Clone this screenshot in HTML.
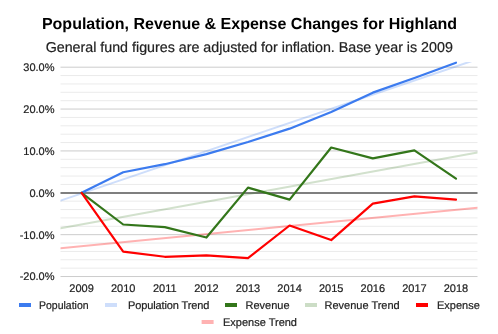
<!DOCTYPE html>
<html><head><meta charset="utf-8"><style>
html,body{margin:0;padding:0;background:#fff;}
svg{display:block;will-change:transform;}
text{font-family:"Liberation Sans",sans-serif;text-rendering:geometricPrecision;}
.t text,text.t{stroke:#222222;stroke-width:0.2px;}
</style></head><body>
<svg width="498" height="334" viewBox="0 0 498 334">
<rect width="498" height="334" fill="#ffffff"/>
<text x="249.5" y="29.2" text-anchor="middle" font-size="16" font-weight="bold" fill="#000000">Population, Revenue &amp; Expense Changes for Highland</text>
<text x="249.25" y="51.8" text-anchor="middle" font-size="14.25" fill="#222222" class="t">General fund figures are adjusted for inflation. Base year is 2009</text>
<g>
<line x1="60.5" x2="477.5" y1="276.54" y2="276.54" stroke="#cccccc" stroke-width="1"/>
<line x1="60.5" x2="477.5" y1="268.17" y2="268.17" stroke="#ebebeb" stroke-width="1"/>
<line x1="60.5" x2="477.5" y1="259.79" y2="259.79" stroke="#ebebeb" stroke-width="1"/>
<line x1="60.5" x2="477.5" y1="251.42" y2="251.42" stroke="#ebebeb" stroke-width="1"/>
<line x1="60.5" x2="477.5" y1="243.04" y2="243.04" stroke="#ebebeb" stroke-width="1"/>
<line x1="60.5" x2="477.5" y1="234.67" y2="234.67" stroke="#cccccc" stroke-width="1"/>
<line x1="60.5" x2="477.5" y1="226.30" y2="226.30" stroke="#ebebeb" stroke-width="1"/>
<line x1="60.5" x2="477.5" y1="217.92" y2="217.92" stroke="#ebebeb" stroke-width="1"/>
<line x1="60.5" x2="477.5" y1="209.55" y2="209.55" stroke="#ebebeb" stroke-width="1"/>
<line x1="60.5" x2="477.5" y1="201.17" y2="201.17" stroke="#ebebeb" stroke-width="1"/>
<line x1="60.5" x2="477.5" y1="184.43" y2="184.43" stroke="#ebebeb" stroke-width="1"/>
<line x1="60.5" x2="477.5" y1="176.05" y2="176.05" stroke="#ebebeb" stroke-width="1"/>
<line x1="60.5" x2="477.5" y1="167.68" y2="167.68" stroke="#ebebeb" stroke-width="1"/>
<line x1="60.5" x2="477.5" y1="159.30" y2="159.30" stroke="#ebebeb" stroke-width="1"/>
<line x1="60.5" x2="477.5" y1="150.93" y2="150.93" stroke="#cccccc" stroke-width="1"/>
<line x1="60.5" x2="477.5" y1="142.56" y2="142.56" stroke="#ebebeb" stroke-width="1"/>
<line x1="60.5" x2="477.5" y1="134.18" y2="134.18" stroke="#ebebeb" stroke-width="1"/>
<line x1="60.5" x2="477.5" y1="125.81" y2="125.81" stroke="#ebebeb" stroke-width="1"/>
<line x1="60.5" x2="477.5" y1="117.43" y2="117.43" stroke="#ebebeb" stroke-width="1"/>
<line x1="60.5" x2="477.5" y1="109.06" y2="109.06" stroke="#cccccc" stroke-width="1"/>
<line x1="60.5" x2="477.5" y1="100.69" y2="100.69" stroke="#ebebeb" stroke-width="1"/>
<line x1="60.5" x2="477.5" y1="92.31" y2="92.31" stroke="#ebebeb" stroke-width="1"/>
<line x1="60.5" x2="477.5" y1="83.94" y2="83.94" stroke="#ebebeb" stroke-width="1"/>
<line x1="60.5" x2="477.5" y1="75.56" y2="75.56" stroke="#ebebeb" stroke-width="1"/>
<line x1="60.5" x2="477.5" y1="67.19" y2="67.19" stroke="#cccccc" stroke-width="1"/>
</g>
<line x1="60.5" x2="477.5" y1="193" y2="193" stroke="#7f7f7f" stroke-width="2"/>
<g font-size="11" fill="#222222" class="t">
<text x="54.5" y="71.09" text-anchor="end">30.0%</text>
<text x="54.5" y="112.96" text-anchor="end">20.0%</text>
<text x="54.5" y="154.83" text-anchor="end">10.0%</text>
<text x="54.5" y="196.70" text-anchor="end">0.0%</text>
<text x="54.5" y="238.57" text-anchor="end">-10.0%</text>
<text x="54.5" y="280.44" text-anchor="end">-20.0%</text>
<text x="81.60" y="291.9" text-anchor="middle">2009</text>
<text x="123.20" y="291.9" text-anchor="middle">2010</text>
<text x="164.80" y="291.9" text-anchor="middle">2011</text>
<text x="206.40" y="291.9" text-anchor="middle">2012</text>
<text x="248.00" y="291.9" text-anchor="middle">2013</text>
<text x="289.60" y="291.9" text-anchor="middle">2014</text>
<text x="331.20" y="291.9" text-anchor="middle">2015</text>
<text x="372.80" y="291.9" text-anchor="middle">2016</text>
<text x="414.40" y="291.9" text-anchor="middle">2017</text>
<text x="456.00" y="291.9" text-anchor="middle">2018</text>
</g>
<defs><clipPath id="ca"><rect x="60.5" y="62" width="417.0" height="215"/></clipPath></defs>
<g clip-path="url(#ca)" fill="none" stroke-linejoin="round" stroke-linecap="round">
<path d="M60.50,200.60 L477.50,59.13" stroke="#3c7bef" stroke-opacity="0.25" stroke-width="2"/>
<path d="M60.50,228.28 L477.50,152.44" stroke="#33761a" stroke-opacity="0.22" stroke-width="2"/>
<path d="M60.50,248.29 L477.50,207.66" stroke="#ff0000" stroke-opacity="0.3" stroke-width="2"/>
</g>
<g fill="none" stroke-linejoin="round" stroke-linecap="round">
<polyline points="81.60,192.80 123.20,172.28 164.80,164.20 206.40,154.11 248.00,141.97 289.60,128.66 331.20,111.99 372.80,92.65 414.40,77.95 456.00,62.71" stroke="#3c7bef" stroke-width="2.2"/>
<polyline points="81.60,192.80 123.20,224.50 164.80,227.09 206.40,237.52 248.00,187.65 289.60,199.58 331.20,147.50 372.80,158.38 414.40,150.30 456.00,178.65" stroke="#33761a" stroke-width="2.2"/>
<polyline points="81.60,192.80 123.20,251.59 164.80,256.78 206.40,255.31 248.00,258.20 289.60,225.50 331.20,240.07 372.80,203.64 414.40,196.32 456.00,199.71" stroke="#ff0000" stroke-width="2.2"/>
</g>
<g font-size="11" fill="#222222" class="t">
<rect x="19" y="303" width="12" height="4" fill="#3c7bef"/>
<text x="39" y="308.7" textLength="49.6" lengthAdjust="spacingAndGlyphs">Population</text>
<rect x="105" y="303" width="12" height="4" fill="#3c7bef" fill-opacity="0.25"/>
<text x="128" y="308.7" textLength="81.3">Population Trend</text>
<rect x="225" y="303" width="12" height="4" fill="#33761a"/>
<text x="245.5" y="308.7">Revenue</text>
<rect x="305" y="303" width="12" height="4" fill="#33761a" fill-opacity="0.25"/>
<text x="324.5" y="308.7">Revenue Trend</text>
<rect x="416" y="303" width="12" height="4" fill="#ff0000"/>
<text x="437" y="308.7">Expense</text>
<rect x="201.6" y="320" width="12" height="4" fill="#ff0000" fill-opacity="0.3"/>
<text x="223" y="326">Expense Trend</text>
</g>
</svg>
</body></html>
